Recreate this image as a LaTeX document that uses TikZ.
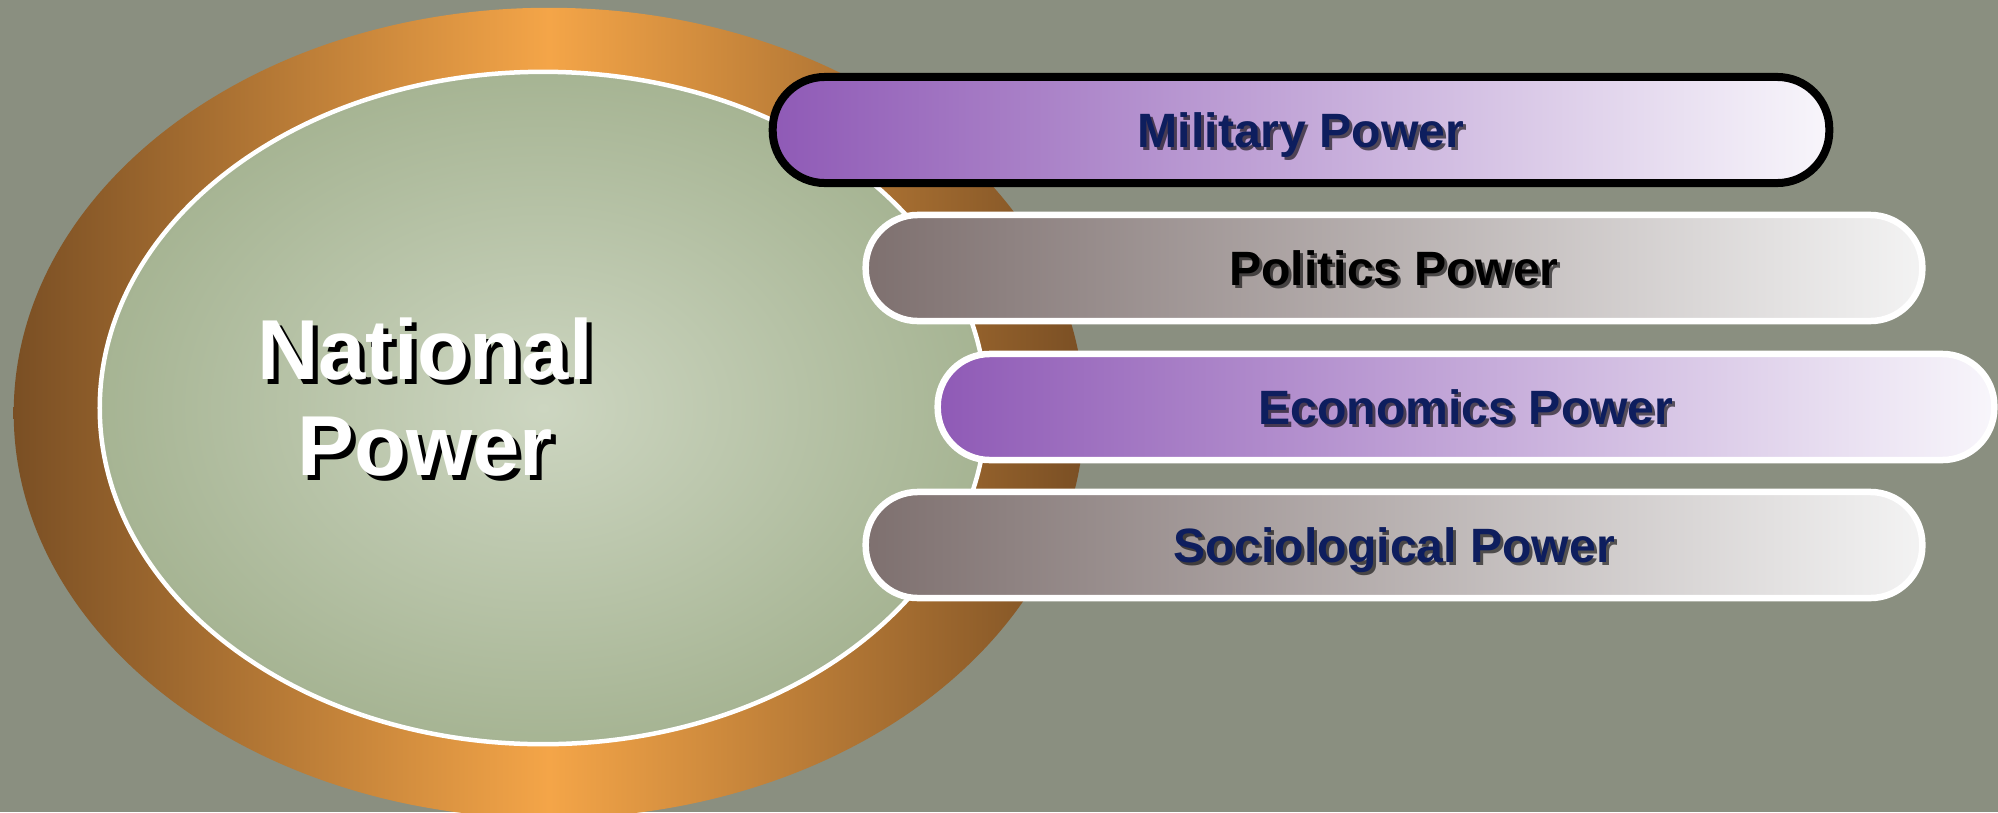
\documentclass[tikz,border=0pt]{standalone}
\usepackage{fontspec}
\setmainfont{Liberation Sans}
\usetikzlibrary{shapes.geometric}
\definecolor{bgcol}{HTML}{8A8F80}
\definecolor{ringdark}{HTML}{7A4F24}
\definecolor{ringlight}{HTML}{F4A548}
\definecolor{coreout}{HTML}{A6B493}
\definecolor{corein}{HTML}{CDD6C1}
\definecolor{purp}{HTML}{8F5AB6}
\definecolor{purpend}{HTML}{F8F6FB}
\definecolor{greyl}{HTML}{7E706F}
\definecolor{greyr}{HTML}{F3F3F3}
\definecolor{navy}{HTML}{0E1E5E}
\begin{document}
\begin{tikzpicture}[x=0.01cm, y=-0.01cm,
    pill/.style={rounded corners=0.52cm, minimum width=10.56cm, minimum height=1.06cm, inner sep=0pt, line width=0.065cm},
    purplebar/.style={pill, left color=purp, right color=purpend},
    greybar/.style={pill, left color=greyl, right color=greyr, draw=white},
    lbl/.style={font=\fontsize{13.7}{16}\selectfont\bfseries, text height=0.34cm, text depth=0cm, inner sep=0pt},
    lblshadow/.style={lbl, text=black, opacity=0.6},
    bigtext/.style={font=\fontsize{24.2}{27.3}\selectfont\bfseries, align=center, inner sep=0pt}]
    \fill [bgcol] (0,0) rectangle (1998,812);
    \useasboundingbox (0,0) rectangle (1998,812);

    \node [ellipse, minimum width=10.7cm, minimum height=8.1cm, left color=ringdark, right color=ringdark, middle color=ringlight] (ring) at (549,413) {};
    \node [ellipse, minimum width=8.86cm, minimum height=6.72cm, inner color=corein, outer color=coreout, draw=white, line width=0.045cm] (core) at (543,408) {};

    \node [bigtext, text=black] (natshadow) at (430,402) {National\\Power};
    \node [bigtext, text=white] (nat) at (425,397) {National\\Power};

    \node [purplebar, draw=black, line width=0.08cm] (mil) at (1301,130) {};
    \node [lblshadow] (milshadow) at ([shift={(3,3)}]mil.center) {Military Power};
    \node [lbl, text=navy] (miltext) at (mil.center) {Military Power};

    \node [greybar] (pol) at (1394,268) {};
    \node [lblshadow] (polshadow) at ([shift={(3,3)}]pol.center) {Politics Power};
    \node [lbl, text=black] (poltext) at (pol.center) {Politics Power};

    \node [purplebar, draw=white] (eco) at (1466,407) {};
    \node [lblshadow] (ecoshadow) at ([shift={(3,3)}]eco.center) {Economics Power};
    \node [lbl, text=navy] (ecotext) at (eco.center) {Economics Power};

    \node [greybar] (soc) at (1394,545) {};
    \node [lblshadow] (socshadow) at ([shift={(3,3)}]soc.center) {Sociological Power};
    \node [lbl, text=navy] (soctext) at (soc.center) {Sociological Power};
\end{tikzpicture}
\end{document}
